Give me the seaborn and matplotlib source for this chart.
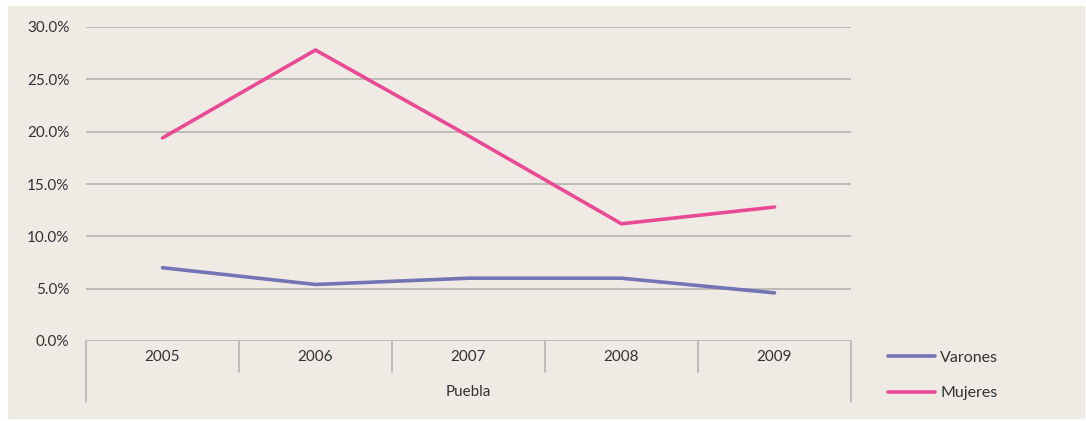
import pandas as pd
import seaborn as sns
import matplotlib.pyplot as plt
from matplotlib.ticker import FuncFormatter
import matplotlib.transforms as mtransforms

years = ['2005', '2006', '2007', '2008', '2009']
varones = [7.0, 5.4, 6.0, 6.0, 4.6]
mujeres = [19.4, 27.8, 19.6, 11.2, 12.8]
region = 'Puebla'

df = pd.DataFrame({
    'anio': years * 2,
    'valor': varones + mujeres,
    'grupo': ['Varones'] * len(years) + ['Mujeres'] * len(years),
})

bg = '#efebe4'
grid_c = '#b4b4b0'
txt_c = '#333333'

sns.set_theme(style='white')
plt.rcParams['font.family'] = ['Lato', 'DejaVu Sans']

fig = plt.figure(figsize=(10.86, 4.21), dpi=100)
fig.patches.append(plt.Rectangle((8 / 1086, 3 / 421), 1076 / 1086, 412 / 421,
                                 transform=fig.transFigure, color=bg, zorder=-1))
ax = fig.add_axes([86 / 1086, 80 / 421, 765 / 1086, 314 / 421])
ax.set_facecolor(bg)

sns.lineplot(data=df, x='anio', y='valor', hue='grupo',
             palette={'Varones': '#7274b4', 'Mujeres': '#ea4a93'},
             linewidth=2.6, ax=ax, legend=True)

ax.set_xlim(-0.5, 4.5)
ax.set_ylim(0, 30)
ax.set_yticks([0, 5, 10, 15, 20, 25, 30])
ax.yaxis.set_major_formatter(FuncFormatter(lambda v, p: f'{v:.1f}%'))
ax.yaxis.grid(True, color=grid_c, linewidth=1.2)
ax.set_axisbelow(True)
for s in ax.spines.values():
    s.set_visible(False)
ax.tick_params(axis='y', length=0, pad=12, labelsize=11, labelcolor=txt_c)
ax.set_xticks([])
ax.set_xlabel('')
ax.set_ylabel('')

# category axis below the plot
trans = mtransforms.blended_transform_factory(ax.transData, ax.transAxes)
for i in range(len(years) + 1):
    bottom = -0.194 if i in (0, len(years)) else -0.099
    ax.plot([i - 0.5, i - 0.5], [0, bottom], color=grid_c, linewidth=1.2,
            transform=trans, clip_on=False)
for i, y in enumerate(years):
    ax.text(i, -0.051, y, transform=trans, ha='center', va='center',
            fontsize=11, color=txt_c)
ax.text((len(years) - 1) / 2, -0.162, region, transform=trans, ha='center',
        va='center', fontsize=11, color=txt_c)

handles, labels = ax.get_legend_handles_labels()
ax.legend_.remove()
order = [labels.index('Varones'), labels.index('Mujeres')]
fig.legend([handles[i] for i in order], [labels[i] for i in order],
           loc='upper left', bbox_to_anchor=(874 / 1086, 1 - 336 / 421),
           frameon=False, handlelength=2.9, handletextpad=0.35,
           labelspacing=1.35, fontsize=11.5, labelcolor=txt_c)

fig.savefig('out.png', dpi=100, facecolor='white')
